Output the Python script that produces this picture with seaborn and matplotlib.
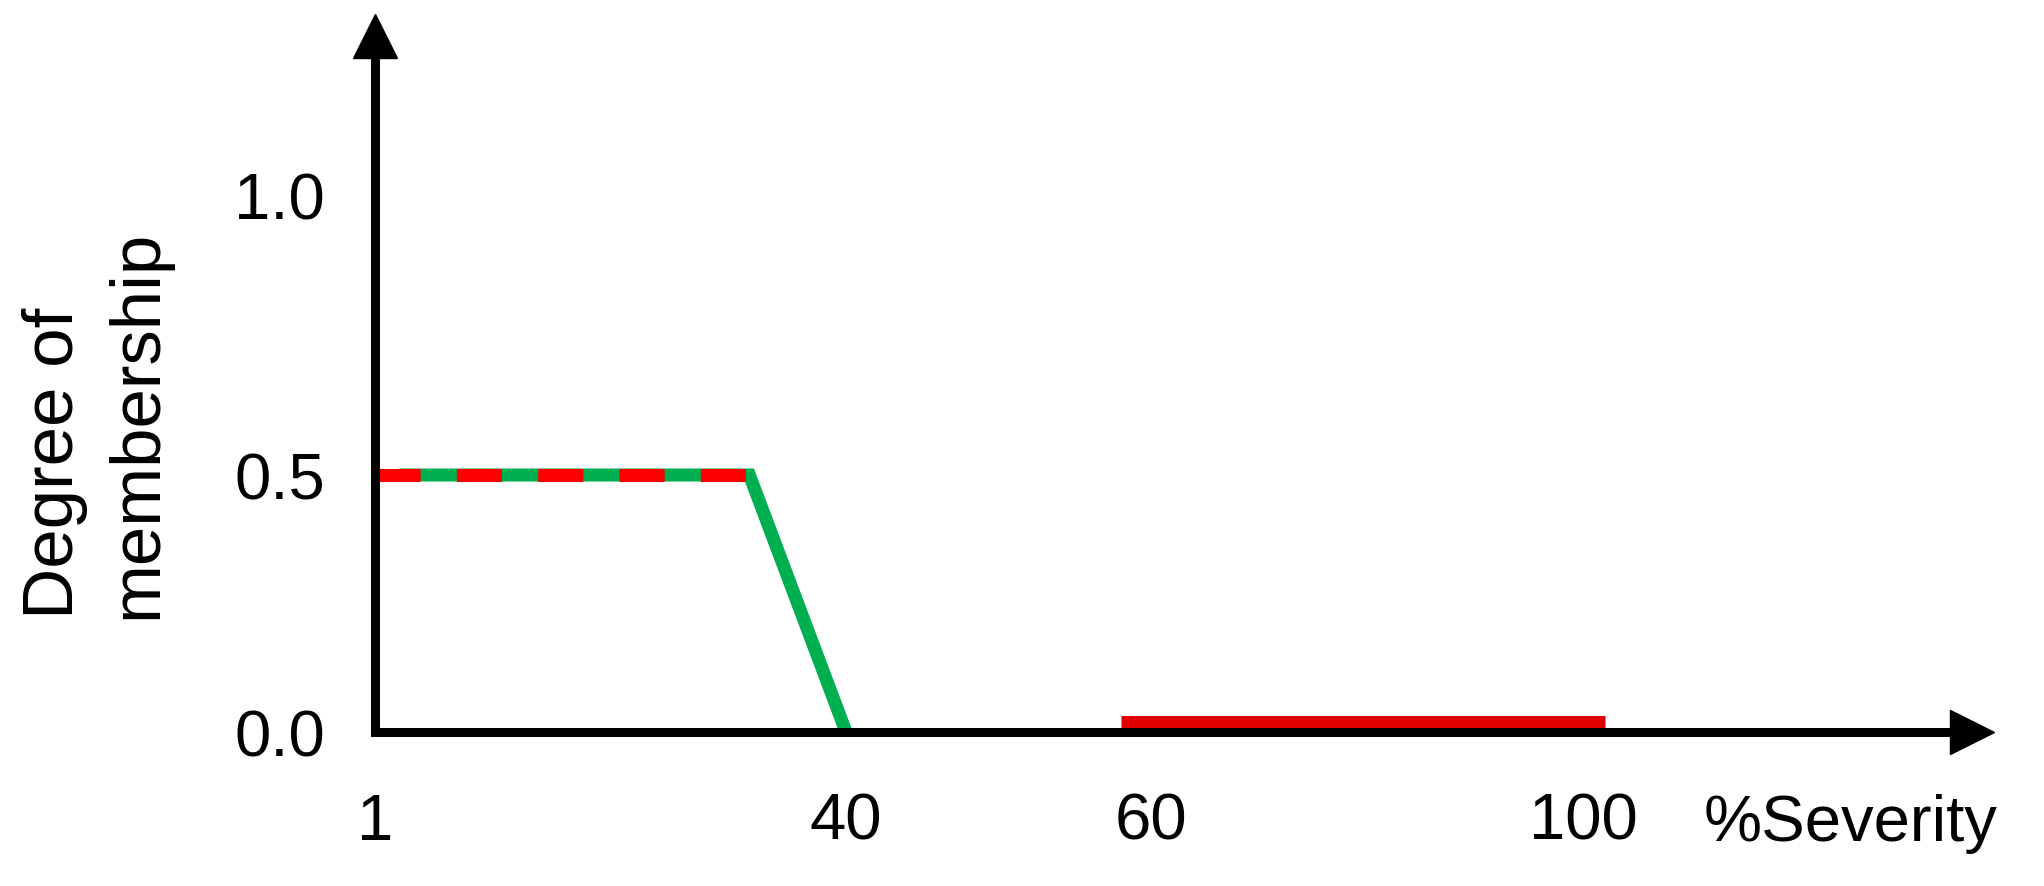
import numpy as np
import matplotlib
matplotlib.use("Agg")
import matplotlib.pyplot as plt
import seaborn as sns

sns.set_style("white")
plt.rcParams['font.family'] = ['Liberation Sans', 'DejaVu Sans']
plt.rcParams['text.color'] = 'black'
plt.rcParams['axes.labelcolor'] = 'black'

# ---- data ----
severity_ticks = [1, 40, 60, 100]
membership_ticks = [0.0, 0.5, 1.0]

green_x = [3, 32, 40]
green_y = [0.5, 0.5, 0.0]

red_dash_x = [1, 32]
red_dash_y = [0.5, 0.5]

red_bar_x = [58, 102]
red_bar_y = [0.02, 0.02]

# the drawing is not to scale: piecewise axes, anchored where the ticks sit (px from origin)
x_anchor = [0, 1, 40, 60, 100, 140]
x_px = [-12.1, 0, 471, 776, 1208, 1640]
y_anchor = [-0.5, 0.0, 0.5, 1.0, 1.5]
y_px = [-257, 0, 257, 537, 817]


def xf(v):
    return np.interp(v, x_anchor, x_px)


def xi(v):
    return np.interp(v, x_px, x_anchor)


def yf(v):
    return np.interp(v, y_anchor, y_px)


def yi(v):
    return np.interp(v, y_px, y_anchor)


fig = plt.figure(figsize=(20.44, 8.87), dpi=100)
ax = fig.add_axes([0.1835, 0.1736, 0.965 - 0.1835, 0.9588 - 0.1736])

lw = 9.4
sns.lineplot(x=green_x, y=green_y, ax=ax, color="#00B050", lw=lw,
             solid_capstyle="butt", solid_joinstyle="miter")
sns.lineplot(x=red_dash_x, y=red_dash_y, ax=ax, color="#FF0000", lw=lw,
             linestyle=(0, (3.46, 2.77)), dash_capstyle="butt")
sns.lineplot(x=red_bar_x, y=red_bar_y, ax=ax, color="#E00000", lw=lw,
             solid_capstyle="butt")

ax.set_xscale("function", functions=(xf, xi))
ax.set_yscale("function", functions=(yf, yi))
ax.set_xlim(1, xi(1597.5))
ax.set_ylim(0, yi(696.5))

ax.set_xticks(severity_ticks)
ax.set_xticklabels([str(v) for v in severity_ticks])
ax.set_yticks(membership_ticks)
ax.set_yticklabels([f"{v:.1f}" for v in membership_ticks])
ax.tick_params(axis="both", length=0, labelsize=47, colors="black")
ax.tick_params(axis="x", pad=43)
ax.tick_params(axis="y", pad=36)

for s in ["top", "right"]:
    ax.spines[s].set_visible(False)
for s in ["left", "bottom"]:
    ax.spines[s].set_linewidth(6.5)
    ax.spines[s].set_color("black")

# arrow heads at the ends of both axes
ax.plot(1, 0, ">", color="black", ms=31, transform=ax.transAxes, clip_on=False)
ax.plot(0, 1, "^", color="black", ms=31, transform=ax.transAxes, clip_on=False)

ax.set_xlabel("%Severity", fontsize=47, va="center", ha="center")
ax.xaxis.set_label_coords(0.924, -0.13)

ax.set_ylabel("Degree of\nmembership", fontsize=51, linespacing=1.33)
lab = ax.yaxis.label
lab.set_rotation_mode("default")
lab.set_ha("left")
lab.set_va("bottom")
lab.set_multialignment("left")
ax.yaxis.set_label_coords(-0.221, 0.1637)

fig.savefig("out.png", dpi=100)
